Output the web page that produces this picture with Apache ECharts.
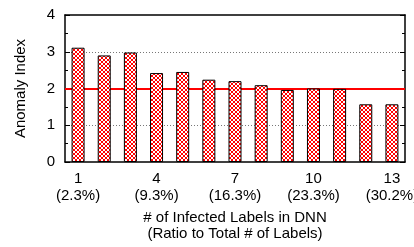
<!DOCTYPE html>
<html>
<head>
<meta charset="utf-8">
<script src="https://cdn.jsdelivr.net/npm/echarts@6/dist/echarts.min.js"></script>
<style>
  html, body {margin: 0; padding: 0; background: #fff;}
  #chart {width: 414px; height: 247px;}
</style>
</head>
<body>
<div id="chart"></div>
<script>
// data
var labels = ['1', '2', '3', '4', '5', '6', '7', '8', '9', '10', '11', '12', '13'];
var ratios = ['2.3%', '4.7%', '7.0%', '9.3%', '11.6%', '14.0%', '16.3%', '18.6%', '20.9%', '23.3%', '25.6%', '27.9%', '30.2%'];
var anomaly = [3.11, 2.90, 2.98, 2.42, 2.45, 2.24, 2.20, 2.09, 1.96, 2.00, 1.99, 1.57, 1.57];
var threshold = 2;
var yTicks = [0, 1, 2, 3, 4];

var font = 'Liberation Sans';

// red cross hatch like gnuplot pattern
var pat = document.createElement('canvas');
pat.width = 4; pat.height = 4;
var ctx = pat.getContext('2d');
ctx.fillStyle = '#fff';
ctx.fillRect(0, 0, 4, 4);
ctx.fillStyle = '#ff0000';
for (var i = 0; i < 4; i++) {
  ctx.fillRect(i, i, 1, 1);
  ctx.fillRect(3 - i, i, 1, 1);
}

var showEvery3 = function (idx) { return idx % 3 === 0; };

var chart = echarts.init(document.getElementById('chart'));
chart.setOption({
  animation: false,
  textStyle: {fontFamily: font},
  grid: {left: 65, right: 9, top: 15, bottom: 85, outerBoundsMode: 'none', containLabel: false},
  xAxis: [
    {
      type: 'category',
      data: labels,
      position: 'bottom',
      axisLine: {onZero: false, lineStyle: {color: '#000', width: 1.5}},
      axisTick: {inside: true, alignWithLabel: true, interval: showEvery3, length: 4, lineStyle: {color: '#000'}},
      axisLabel: {
        interval: showEvery3,
        color: '#000', fontSize: 15, lineHeight: 17, margin: 8,
        formatter: function (v, idx) { return v + '\n(' + ratios[idx] + ')'; }
      },
      name: '# of Infected Labels in DNN\n(Ratio to Total # of Labels)',
      nameLocation: 'middle',
      nameGap: 48,
      nameTextStyle: {color: '#000', fontSize: 15, lineHeight: 16}
    },
    {
      type: 'category',
      data: labels,
      position: 'top',
      axisLine: {show: true, onZero: false, lineStyle: {color: '#000', width: 1.5}},
      axisTick: {inside: true, alignWithLabel: true, interval: showEvery3, length: 4, lineStyle: {color: '#000'}},
      axisLabel: {show: false}
    }
  ],
  yAxis: [
    {
      type: 'value', min: yTicks[0], max: yTicks[yTicks.length - 1], interval: 1,
      position: 'left',
      axisLine: {show: true, onZero: false, lineStyle: {color: '#000', width: 1.5}},
      axisTick: {show: true, inside: true, length: 5, lineStyle: {color: '#000'}},
      minorTick: {show: true, splitNumber: 2, length: 3, lineStyle: {color: '#000'}},
      axisLabel: {color: '#000', fontSize: 15, margin: 10},
      splitLine: {show: true, showMinLine: false, showMaxLine: false, lineStyle: {color: '#777', type: [1, 2], width: 1}},
      name: 'Anomaly Index',
      nameLocation: 'middle',
      nameGap: 37,
      nameTextStyle: {color: '#000', fontSize: 15}
    },
    {
      type: 'value', min: yTicks[0], max: yTicks[yTicks.length - 1], interval: 1,
      position: 'right',
      axisLine: {show: true, onZero: false, lineStyle: {color: '#000', width: 1.5}},
      axisTick: {show: true, inside: true, length: 5, lineStyle: {color: '#000'}},
      minorTick: {show: true, splitNumber: 2, length: 3, lineStyle: {color: '#000'}},
      axisLabel: {show: false},
      splitLine: {show: false}
    }
  ],
  series: [
    {
      type: 'bar',
      data: anomaly,
      barWidth: 13,
      z: 3,
      itemStyle: {
        color: {image: pat, repeat: 'repeat'},
        borderColor: '#000',
        borderWidth: 1
      },
      markLine: {
        z: 1,
        silent: true,
        symbol: 'none',
        label: {show: false},
        lineStyle: {color: '#ff0000', width: 2, type: 'solid'},
        data: [{yAxis: threshold}]
      }
    }
  ]
});
</script>
</body>
</html>
